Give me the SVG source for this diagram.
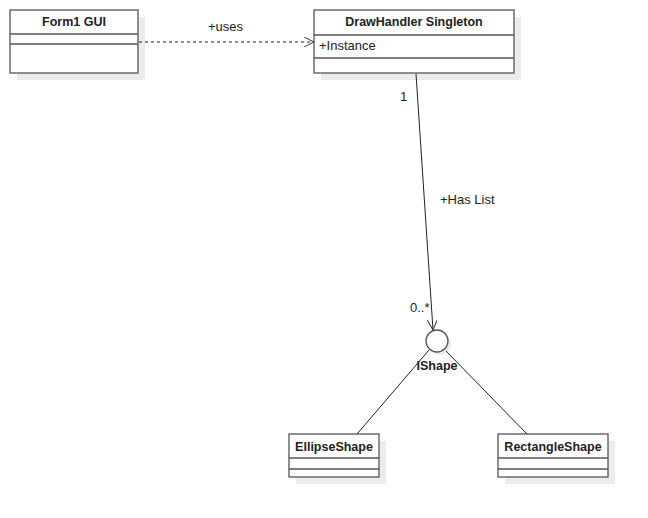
<svg xmlns="http://www.w3.org/2000/svg" width="648" height="518" viewBox="0 0 648 518">
<defs>
<marker id="open" viewBox="0 0 10 10" refX="10" refY="5" markerWidth="10" markerHeight="10" markerUnits="userSpaceOnUse" orient="auto">
<path d="M0,0 L10,5 L0,10" fill="none" stroke="#333" stroke-width="1"/>
</marker>
</defs>
<style>
.box{fill:#fff;stroke:#555;stroke-width:1.3}
.sh{fill:#ececec}
.ln{stroke:#555;stroke-width:1.3}
.t{font-family:"Liberation Sans",Arial,sans-serif;font-size:13px;fill:#222}
.b{font-weight:bold;text-anchor:middle;font-size:12.5px}
.c{stroke:#222;stroke-width:1;fill:none}
</style>
<rect width="648" height="518" fill="#fff"/>
<g id="form1">
<rect class="sh" x="17" y="17" width="128" height="63"/>
<rect class="box" x="10" y="10" width="128" height="63"/>
<line class="ln" x1="10" y1="34" x2="138" y2="34"/>
<line class="ln" x1="10" y1="44" x2="138" y2="44"/>
<text class="t b" x="74" y="26">Form1 GUI</text>
</g>
<g id="drawhandler">
<rect class="sh" x="321" y="17" width="200" height="63"/>
<rect class="box" x="314" y="10" width="200" height="63"/>
<line class="ln" x1="314" y1="35" x2="514" y2="35"/>
<line class="ln" x1="314" y1="58" x2="514" y2="58"/>
<text class="t b" x="414" y="26">DrawHandler Singleton</text>
<text class="t" x="319" y="50">+Instance</text>
</g>
<g id="ishape">
<circle cx="440" cy="344" r="11" fill="#ececec"/>
<circle cx="437" cy="341" r="11" fill="#fff" stroke="#555" stroke-width="1.3"/>
<text class="t b" x="437" y="370">IShape</text>
</g>
<g id="ellipse">
<rect class="sh" x="296" y="441" width="90" height="43"/>
<rect class="box" x="289" y="434" width="90" height="43"/>
<line class="ln" x1="289" y1="458" x2="379" y2="458"/>
<line class="ln" x1="289" y1="469" x2="379" y2="469"/>
<text class="t b" x="334" y="451">EllipseShape</text>
</g>
<g id="rectangle">
<rect class="sh" x="505" y="441" width="110" height="43"/>
<rect class="box" x="498" y="434" width="110" height="43"/>
<line class="ln" x1="498" y1="458" x2="608" y2="458"/>
<line class="ln" x1="498" y1="469" x2="608" y2="469"/>
<text class="t b" x="553" y="451">RectangleShape</text>
</g>
<g id="connectors">
<path class="c" d="M139,42 L314,42" stroke-dasharray="3,3" marker-end="url(#open)" stroke="#444"/>
<text class="t" x="208" y="31">+uses</text>
<path class="c" d="M416,74 L433,330" marker-end="url(#open)"/>
<text class="t" x="400" y="101">1</text>
<text class="t" x="440" y="204">+Has List</text>
<text class="t" x="410" y="312">0..*</text>
<path class="c" d="M429,350 L357,434"/>
<path class="c" d="M446,351 L527,434"/>
</g>
</svg>
